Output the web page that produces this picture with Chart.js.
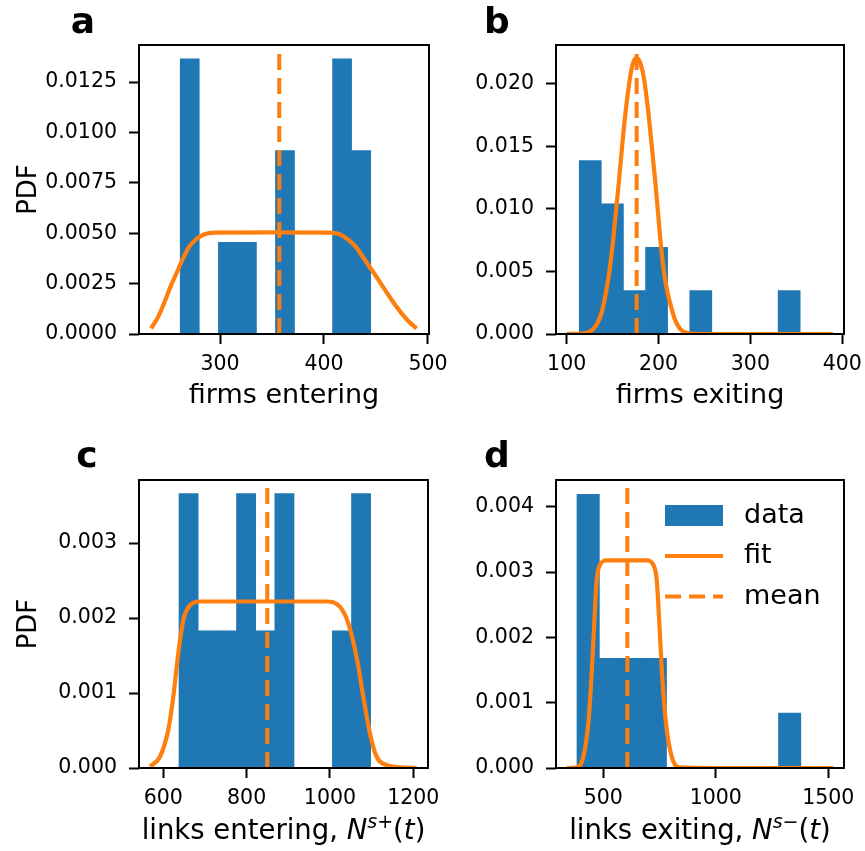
<!DOCTYPE html>
<html>
<head>
<meta charset="utf-8">
<script src="https://cdn.jsdelivr.net/npm/chart.js@4.4.1/dist/chart.umd.min.js"></script>
<style>
  body { margin: 0; background: #fff; }
  #fig { position: relative; width: 865px; height: 851px; font-family: 'DejaVu Sans', sans-serif; color: #000; }
  #fig canvas { position: absolute; }
  .panel { position: absolute; width: 60px; text-align: center; font-weight: bold; font-size: 36px; line-height: 36px; }
  .xlab { position: absolute; font-size: 27.5px; line-height: 27px; text-align: center; white-space: nowrap; }
  .xlab .sup { font-size: 19px; position: relative; top: -11px; }
</style>
</head>
<body>
<div id="fig">
  <canvas id="chartA" width="450" height="425" style="left:0;top:0"></canvas>
  <canvas id="chartB" width="415" height="425" style="left:450px;top:0"></canvas>
  <canvas id="chartC" width="450" height="426" style="left:0;top:425px"></canvas>
  <canvas id="chartD" width="415" height="426" style="left:450px;top:425px"></canvas>

  <div class="panel" style="left:53px;top:3px">a</div>
  <div class="panel" style="left:467px;top:3px">b</div>
  <div class="panel" style="left:57px;top:437px">c</div>
  <div class="panel" style="left:467px;top:437px">d</div>

  <div class="xlab" style="left:139px;width:289px;top:816px">links entering, <i>N</i><span class="sup"><i>s</i>+</span>(<i>t</i>)</div>
  <div class="xlab" style="left:556px;width:288px;top:816px">links exiting, <i>N</i><span class="sup"><i>s</i>&minus;</span>(<i>t</i>)</div>
</div>

<script>
// a: firms entering
const aBins = [270.9, 289.3, 307.6, 325.9, 344.2, 362.5, 380.8, 399.1, 417.4, 435.8];
const aPdf = [0.01365, 0, 0.00455, 0.00455, 0, 0.0091, 0, 0, 0.01365, 0.0091];
const aFitX = [233.7, 240, 246, 252, 258, 264, 270, 277, 285, 295, 350, 405, 415, 423, 431, 439, 447, 456, 465, 475, 482, 489.1];
const aFitY = [0.00028, 0.0008, 0.0015, 0.0023, 0.0030, 0.0037, 0.0043, 0.0047, 0.00495, 0.00503, 0.00504, 0.00503, 0.00495, 0.0047, 0.0043, 0.0037, 0.0031, 0.0024, 0.0017, 0.0010, 0.0006, 0.00028];
const aMeanX = 357, aMeanTop = 0.01395;
const aXTicks = [300, 400, 500];
const aYTicks = [0, 0.0025, 0.005, 0.0075, 0.01, 0.0125];

// b: firms exiting
const bBins = [125.7, 149.8, 173.8, 197.9, 221.9, 246.0, 270.0, 294.1, 318.1, 342.2];
const bPdf = [0.01386, 0.0104, 0.00347, 0.00693, 0, 0.00347, 0, 0, 0, 0.00347];
const bFitX = [100, 115, 122, 127.5, 133, 138.1, 145.3, 150, 153.6, 157.2, 160.5, 164.2, 168.9, 172, 176.2, 180.4, 184.1, 188.8, 192.5, 196.1, 199.4, 202.6, 207, 215.3, 220, 225, 231, 238, 260, 300, 390];
const bFitY = [0, 0.00002, 0.0001, 0.0003, 0.0008, 0.00173, 0.00441, 0.00709, 0.00976, 0.01244, 0.01511, 0.01778, 0.02046, 0.0216, 0.02207, 0.0216, 0.02046, 0.01778, 0.01511, 0.01244, 0.00976, 0.00709, 0.00441, 0.00173, 0.0008, 0.0003, 0.0001, 0.00002, 0, 0, 0];
const bMeanX = 176.2, bMeanTop = 0.0225;
const bXTicks = [100, 200, 300, 400];
const bYTicks = [0, 0.005, 0.01, 0.015, 0.02];

// c: links entering
const cBins = [660.7, 706.7, 752.7, 798.7, 844.7, 890.7, 936.7, 982.7, 1028.7, 1074.7];
const cPdf = [0.00366, 0.00183, 0.00183, 0.00366, 0.00183, 0.00366, 0, 0, 0.00183, 0.00366];
const cFitX = [568, 592, 612, 624, 636, 648, 664, 688, 750, 850, 950, 992, 1024, 1044, 1064, 1080, 1096, 1112, 1136, 1170, 1208];
const cFitY = [0.00002, 0.00015, 0.00051, 0.00095, 0.00153, 0.00197, 0.00217, 0.00222, 0.00222, 0.00222, 0.00222, 0.00222, 0.00215, 0.00193, 0.00148, 0.00095, 0.00046, 0.00015, 0.00004, 0.00001, 0];
const cMeanX = 849.6, cMeanTop = 0.00375;
const cXTicks = [600, 800, 1000, 1200];
const cYTicks = [0, 0.001, 0.002, 0.003];

// d: links exiting
const dBins = [432.8, 532.3, 631.8, 731.3, 830.8, 930.3, 1029.8, 1129.3, 1228.8, 1328.3];
const dPdf = [0.00419, 0.00168, 0.00168, 0.00168, 0, 0, 0, 0, 0, 0.00084];
const dFitX = [337, 381.7, 411, 433.3, 448.4, 460, 470.6, 485.3, 515, 600, 693, 722.4, 737.5, 749.1, 761.1, 778.9, 804.3, 841.2, 1000, 1523];
const dFitY = [0, 0.00001, 0.00017, 0.00068, 0.00145, 0.00222, 0.00288, 0.00311, 0.00318, 0.00318, 0.00318, 0.00311, 0.00288, 0.00222, 0.00145, 0.00068, 0.00017, 0.00001, 0, 0];
const dMeanX = 606.8, dMeanTop = 0.00431;
const dXTicks = [500, 1000, 1500];
const dYTicks = [0, 0.001, 0.002, 0.003, 0.004];

const legendLabels = ['data', 'fit', 'mean'];

const BLUE = '#1f77b4';
const ORANGE = '#ff7f0e';

Chart.defaults.font.family = "'DejaVu Sans', sans-serif";
Chart.defaults.color = '#000';

// black box around the plot area, like the matplotlib spines
const frame = {
  id: 'frame',
  afterDatasetsDraw(chart) {
    const { ctx, chartArea: a } = chart;
    ctx.save();
    ctx.strokeStyle = '#000';
    ctx.lineWidth = 2;
    ctx.strokeRect(a.left, a.top, a.right - a.left, a.bottom - a.top);
    ctx.restore();
  }
};

// legend drawn inside the plot (panel d only)
const boxLegend = {
  id: 'boxLegend',
  afterDatasetsDraw(chart, args, opts) {
    if (!opts.show) return;
    const ctx = chart.ctx;
    const sets = chart.data.datasets.slice().sort((p, q) => q.order - p.order);
    ctx.save();
    ctx.font = '27px "DejaVu Sans"';
    ctx.textBaseline = 'middle';
    ctx.textAlign = 'left';
    sets.forEach((ds, i) => {
      const y = opts.y + i * opts.gap;
      if (ds.type === 'bar') {
        ctx.fillStyle = ds.backgroundColor;
        ctx.fillRect(opts.x, y - 10.5, opts.handle, 21);
      } else {
        ctx.strokeStyle = ds.borderColor;
        ctx.lineWidth = ds.borderWidth;
        ctx.setLineDash(ds.borderDash || []);
        ctx.beginPath();
        ctx.moveTo(opts.x, y);
        ctx.lineTo(opts.x + opts.handle, y);
        ctx.stroke();
        ctx.setLineDash([]);
      }
      ctx.fillStyle = '#000';
      ctx.fillText(ds.label, opts.x + opts.handle + 21, y);
    });
    ctx.restore();
  }
};

function panel(id, p) {
  const pts = (xs, ys) => xs.map((x, i) => ({ x: x, y: ys[i] }));
  new Chart(document.getElementById(id), {
    type: 'bar',
    data: {
      datasets: [
        {
          type: 'line', label: legendLabels[2], order: 1,
          data: [{ x: p.meanX, y: 0 }, { x: p.meanX, y: p.meanTop }],
          borderColor: ORANGE, borderWidth: 4, borderDash: [16, 8], pointRadius: 0
        },
        {
          type: 'line', label: legendLabels[1], order: 2,
          data: pts(p.fitX, p.fitY),
          borderColor: ORANGE, borderWidth: 4.2, pointRadius: 0,
          cubicInterpolationMode: 'monotone'
        },
        {
          type: 'bar', label: legendLabels[0], order: 3,
          data: pts(p.bins, p.pdf),
          backgroundColor: BLUE, borderWidth: 0,
          barPercentage: 1, categoryPercentage: 1
        }
      ]
    },
    options: {
      responsive: false,
      animation: false,
      events: [],
      layout: { padding: { left: 0, top: p.top, right: p.right, bottom: 0 } },
      plugins: {
        legend: { display: false },
        tooltip: { enabled: false },
        boxLegend: p.legend || { show: false }
      },
      scales: {
        x: {
          type: 'linear',
          min: p.xMin, max: p.xMax,
          offset: false,
          grid: { offset: false, drawOnChartArea: false, tickLength: 10, tickWidth: 2, tickColor: '#000' },
          border: { display: false },
          ticks: { padding: 8, font: { size: 20.5 }, maxRotation: 0, callback: v => String(v) },
          afterBuildTicks(s) { s.ticks = p.xTicks.map(v => ({ value: v })); },
          title: { display: !!p.xTitle, text: p.xTitle || '', font: { size: 27 }, padding: { top: 0, bottom: 13 } },
          afterFit(s) { s.height = p.xH; s.paddingLeft = 0; s.paddingRight = 0; }
        },
        y: {
          min: 0, max: p.yMax,
          grid: { drawOnChartArea: false, tickLength: 10, tickWidth: 2, tickColor: '#000' },
          border: { display: false },
          ticks: { padding: 12, font: { size: 20.5 }, callback: v => v.toFixed(p.digits) },
          afterBuildTicks(s) { s.ticks = p.yTicks.map(v => ({ value: v })); },
          title: { display: !!p.yTitle, text: p.yTitle || '', font: { size: 26 }, padding: { top: 14, bottom: 0 } },
          afterFit(s) { s.width = p.yW; s.paddingTop = 0; s.paddingBottom = 0; }
        }
      }
    },
    plugins: [frame, boxLegend]
  });
}

panel('chartA', {
  bins: aBins, pdf: aPdf, fitX: aFitX, fitY: aFitY, meanX: aMeanX, meanTop: aMeanTop,
  xTicks: aXTicks, yTicks: aYTicks,
  xMin: 222.1, xMax: 501, yMax: 0.01434, digits: 4,
  xTitle: 'firms entering', yTitle: 'PDF',
  top: 45, right: 21, yW: 139, xH: 91
});

panel('chartB', {
  bins: bBins, pdf: bPdf, fitX: bFitX, fitY: bFitY, meanX: bMeanX, meanTop: bMeanTop,
  xTicks: bXTicks, yTicks: bYTicks,
  xMin: 88.4, xMax: 401.9, yMax: 0.0231, digits: 3,
  xTitle: 'firms exiting',
  top: 45, right: 21, yW: 106, xH: 91
});

panel('chartC', {
  bins: cBins, pdf: cPdf, fitX: cFitX, fitY: cFitY, meanX: cMeanX, meanTop: cMeanTop,
  xTicks: cXTicks, yTicks: cYTicks,
  xMin: 541.7, xMax: 1235.3, yMax: 0.00384, digits: 3,
  yTitle: 'PDF',
  top: 55, right: 22, yW: 139, xH: 83
});

panel('chartD', {
  bins: dBins, pdf: dPdf, fitX: dFitX, fitY: dFitY, meanX: dMeanX, meanTop: dMeanTop,
  xTicks: dXTicks, yTicks: dYTicks,
  xMin: 289.8, xMax: 1569.8, yMax: 0.00441, digits: 3,
  top: 55, right: 21, yW: 106, xH: 83,
  legend: { show: true, x: 215, y: 90.5, gap: 40.5, handle: 58 }
});
</script>
</body>
</html>
